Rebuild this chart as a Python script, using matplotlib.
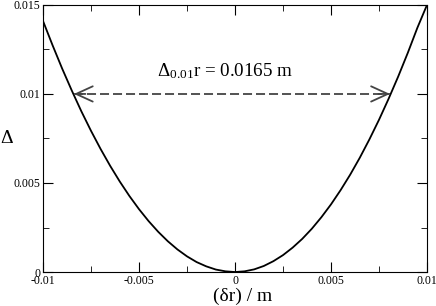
import matplotlib
matplotlib.use("Agg")
import matplotlib.pyplot as plt
from matplotlib.ticker import MultipleLocator

plt.rcParams["font.family"] = "Liberation Serif"
plt.rcParams["mathtext.fontset"] = "custom"
plt.rcParams["mathtext.rm"] = "Liberation Serif"
plt.rcParams["mathtext.it"] = "Liberation Serif:italic"

# curve
dr = [-0.0100, -0.0095, -0.0090, -0.0085, -0.0080, -0.0075, -0.0070, -0.0065,
      -0.0060, -0.0055, -0.0050, -0.0045, -0.0040, -0.0035, -0.0030, -0.0025,
      -0.0020, -0.0015, -0.0010, -0.0005, 0.0000,
      0.0005, 0.0010, 0.0015, 0.0020, 0.0025, 0.0030, 0.0035, 0.0040, 0.0045,
      0.0050, 0.0055, 0.0060, 0.0065, 0.0070, 0.0075, 0.0080, 0.0085, 0.0090,
      0.0095, 0.0100]
delta = [0.01410, 0.01273, 0.01142, 0.01019, 0.00902, 0.00793, 0.00691, 0.00596,
         0.00508, 0.00427, 0.00353, 0.00286, 0.00226, 0.00173, 0.00127, 0.00088,
         0.00056, 0.00032, 0.00014, 0.00004, 0.0,
         0.00004, 0.00015, 0.00034, 0.00061, 0.00095, 0.00137, 0.00186, 0.00243,
         0.00308, 0.00380, 0.00460, 0.00547, 0.00642, 0.00745, 0.00855, 0.00973,
         0.01098, 0.01231, 0.01372, 0.01500]

# width of the curve at delta = 0.01
arrow_x = [-0.00839, 0.00807]
arrow_y = 0.01
label = "Δ$_{0.01}$r = 0.0165 m"

xticks = [-0.01, -0.005, 0, 0.005, 0.01]
xtick_labels = ["-0.01", "-0.005", "0", "0.005", "0.01"]
yticks = [0, 0.005, 0.01, 0.015]
ytick_labels = ["0", "0.005", "0.01", "0.015"]

fig = plt.figure(figsize=(4.36, 3.06), dpi=100)
ax = fig.add_axes([0.0986, 0.111, 0.8808, 0.873])

ax.plot(dr, delta, color="black", lw=1.3)

# dashed shaft + solid open heads
ax.plot(arrow_x, [arrow_y, arrow_y], color="#444444", lw=1.3,
        linestyle=(0, (5, 2.2)))
head = dict(arrowstyle="->,head_length=1.2,head_width=0.55",
            color="#444444", lw=1.3, shrinkA=0, shrinkB=0)
ax.annotate("", xy=(arrow_x[0], arrow_y), xytext=(arrow_x[0] + 0.0006, arrow_y),
            arrowprops=head)
ax.annotate("", xy=(arrow_x[1], arrow_y), xytext=(arrow_x[1] - 0.0006, arrow_y),
            arrowprops=head)
ax.text(-0.0005, 0.0113, label, ha="center", va="center", fontsize=13.7)

ax.set_xlim(-0.01, 0.01)
ax.set_ylim(0, 0.015)
ax.set_xticks(xticks)
ax.set_xticklabels(xtick_labels)
ax.set_yticks(yticks)
ax.set_yticklabels(ytick_labels)
ax.xaxis.set_minor_locator(MultipleLocator(0.0025))
ax.yaxis.set_minor_locator(MultipleLocator(0.0025))
ax.tick_params(which="both", direction="in", top=True, right=True,
               labelsize=8.5, pad=2)
ax.tick_params(which="major", length=7)
ax.tick_params(which="minor", length=4)

ax.set_xlabel("(δr) / m", fontsize=14)
ax.xaxis.set_label_coords(0.521, -0.058)
ax.set_ylabel("Δ", fontsize=14, rotation=0, va="center", ha="center")
ax.yaxis.set_label_coords(-0.094, 0.5)

fig.savefig("out.png", dpi=100)
